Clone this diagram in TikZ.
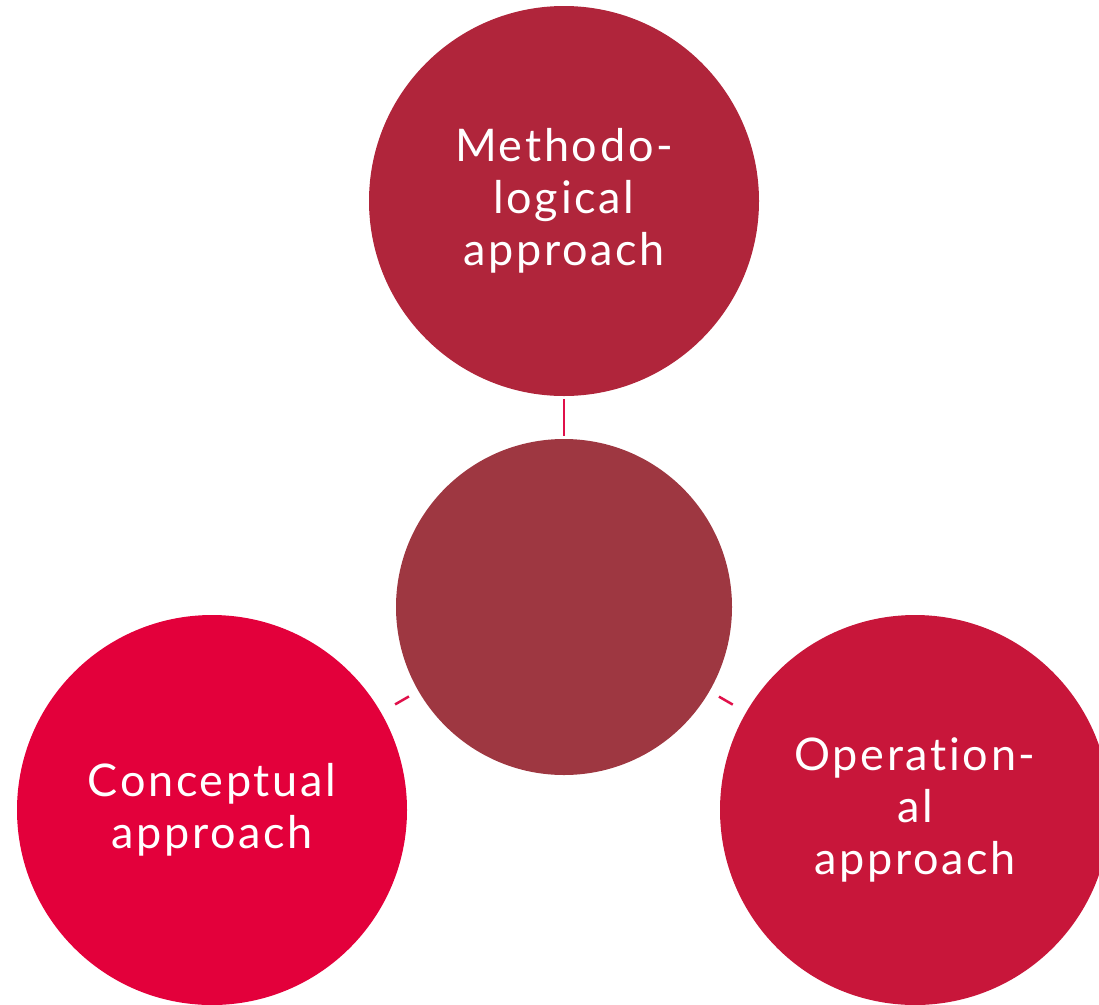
\documentclass[tikz,border=0pt]{standalone}
\usepackage{fontspec}
\setmainfont[LetterSpace=6,RawFeature={-liga;-dlig}]{Lato}
\usetikzlibrary{calc}
\begin{document}
\begin{tikzpicture}[x=1pt,y=-1pt]
\definecolor{ctop}{HTML}{B0253B}
\definecolor{cmid}{HTML}{9E3741}
\definecolor{cleft}{HTML}{E3003B}
\definecolor{cright}{HTML}{C8163A}
\definecolor{cline}{HTML}{E0104A}
\tikzset{
  bubble/.style={circle, inner sep=0pt, text=white, align=center,
    font=\fontsize{45}{52}\selectfont},
  link/.style={draw=cline, line width=2.5pt}
}
\useasboundingbox (0,0) rectangle (1099,1004);
\clip (0,0) rectangle (1099,1004);
\node[bubble, fill=cmid, minimum size=336pt] (mid) at (564,607) {};
\node[bubble, fill=ctop, minimum size=390pt] (top) at (564,201) {Methodo-\\logical\\approach};
\node[bubble, fill=cleft, minimum size=390pt] (left) at (212,810) {Conceptual\\approach};
\node[bubble, fill=cright, minimum size=390pt] (right) at (915,810) {Operation-\\al\\approach};
\draw[link] ([yshift=-3pt]top.south) -- ([yshift=3pt]mid.north);
\draw[link] ($(mid.center)!179pt!(left.center)$) -- ($(mid.center)!195pt!(left.center)$);
\draw[link] ($(mid.center)!179pt!(right.center)$) -- ($(mid.center)!195pt!(right.center)$);
\end{tikzpicture}
\end{document}
